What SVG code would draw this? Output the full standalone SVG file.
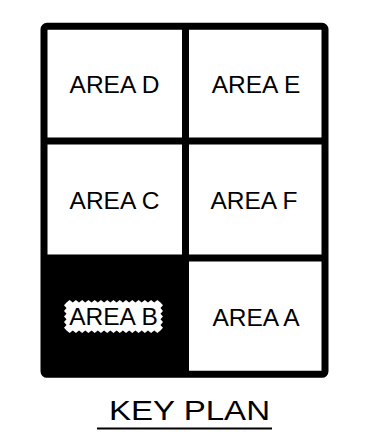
<svg xmlns="http://www.w3.org/2000/svg" width="365" height="432" viewBox="0 0 365 432">
<style>
.lbl{font-family:"Liberation Sans",Arial,sans-serif;font-size:24.5px;fill:#000;text-anchor:middle}
.wall{stroke:#000;stroke-width:7;fill:none}
</style>
<rect width="365" height="432" fill="#fff"/>
<g id="areaB">
<rect x="44" y="258" width="141.5" height="116.5" fill="#000"/>
<path fill="#fff" d="M66.5,302.5 l3.133,-2.5 l3.133,2.5 l3.133,-2.5 l3.133,2.5 l3.133,-2.5 l3.133,2.5 l3.133,-2.5 l3.133,2.5 l3.133,-2.5 l3.133,2.5 l3.133,-2.5 l3.133,2.5 l3.133,-2.5 l3.133,2.5 l3.133,-2.5 l3.133,2.5 l3.133,-2.5 l3.133,2.5 l3.133,-2.5 l3.133,2.5 l3.133,-2.5 l3.133,2.5 l3.133,-2.5 l3.133,2.5 l3.133,-2.5 l3.133,2.5 l3.133,-2.5 l3.133,2.5 l3.133,-2.5 l3.133,2.5 l2.5,2.8 l-2.5,2.8 l2.5,2.8 l-2.5,2.8 l2.5,2.8 l-2.5,2.8 l2.5,2.8 l-2.5,2.8 l2.5,2.8 l-2.5,2.8 l-3.133,2.5 l-3.133,-2.5 l-3.133,2.5 l-3.133,-2.5 l-3.133,2.5 l-3.133,-2.5 l-3.133,2.5 l-3.133,-2.5 l-3.133,2.5 l-3.133,-2.5 l-3.133,2.5 l-3.133,-2.5 l-3.133,2.5 l-3.133,-2.5 l-3.133,2.5 l-3.133,-2.5 l-3.133,2.5 l-3.133,-2.5 l-3.133,2.5 l-3.133,-2.5 l-3.133,2.5 l-3.133,-2.5 l-3.133,2.5 l-3.133,-2.5 l-3.133,2.5 l-3.133,-2.5 l-3.133,2.5 l-3.133,-2.5 l-3.133,2.5 l-3.133,-2.5 l-2.5,-2.8 l2.5,-2.8 l-2.5,-2.8 l2.5,-2.8 l-2.5,-2.8 l2.5,-2.8 l-2.5,-2.8 l2.5,-2.8 l-2.5,-2.8 l2.5,-2.8 Z"/>
<text class="lbl" x="113.5" y="325">AREA B</text>
</g>
<g id="walls">
<rect class="wall" x="44" y="26.3" width="281" height="348" rx="3"/>
<line class="wall" x1="185.5" y1="26.3" x2="185.5" y2="374.3"/>
<line class="wall" x1="44" y1="141" x2="325" y2="141"/>
<line class="wall" x1="44" y1="258" x2="325" y2="258"/>
</g>
<g id="areaD"><text class="lbl" x="114.5" y="93">AREA D</text></g>
<g id="areaE"><text class="lbl" x="256" y="93">AREA E</text></g>
<g id="areaC"><text class="lbl" x="114.5" y="209">AREA C</text></g>
<g id="areaF"><text class="lbl" x="254" y="209">AREA F</text></g>
<g id="areaA"><text class="lbl" x="256" y="326">AREA A</text></g>
<g id="title">
<text x="189.5" y="419.5" font-family="'Liberation Sans',Arial,sans-serif" font-size="28.5" text-anchor="middle" textLength="161" lengthAdjust="spacingAndGlyphs">KEY PLAN</text>
<line x1="97" y1="428.5" x2="272" y2="428.5" stroke="#000" stroke-width="2"/>
</g>
</svg>
